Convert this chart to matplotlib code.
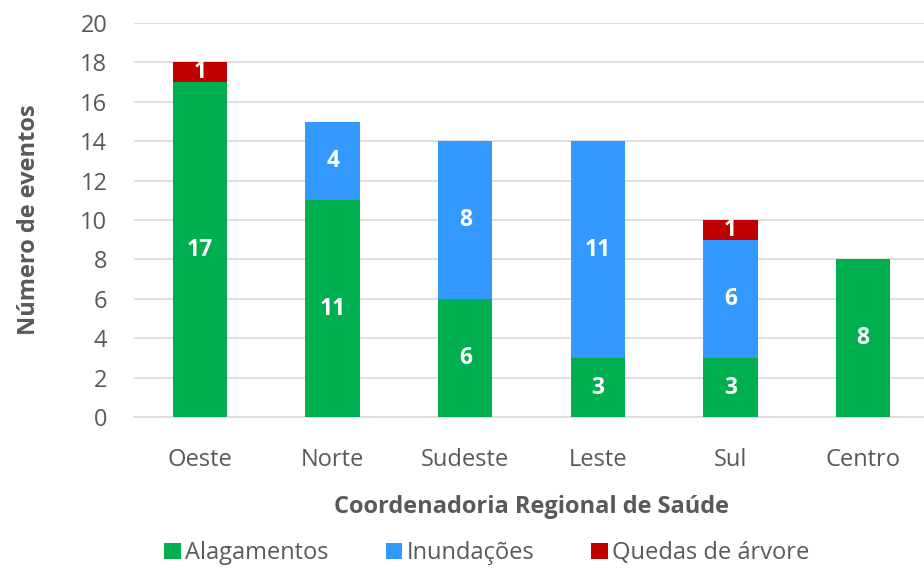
import matplotlib
matplotlib.use("Agg")
import matplotlib.pyplot as plt
import numpy as np

plt.rcParams['font.family'] = ['Open Sans', 'DejaVu Sans']

regioes = ["Oeste", "Norte", "Sudeste", "Leste", "Sul", "Centro"]
alagamentos = [17, 11, 6, 3, 3, 8]
inundacoes = [0, 4, 8, 11, 6, 0]
quedas = [1, 0, 0, 0, 1, 0]

cor_alag = "#00B050"
cor_inund = "#3399FF"
cor_queda = "#C00000"
cinza = "#595959"

fig = plt.figure(figsize=(9.24, 5.69), dpi=100)
ax = fig.add_axes([0.1447, 0.267, 0.8613, 0.6926])

x = np.arange(len(regioes))
w = 0.41
alag = np.array(alagamentos)
inund = np.array(inundacoes)
qued = np.array(quedas)

b1 = ax.bar(x, alag, w, color=cor_alag, label="Alagamentos", zorder=3)
b2 = ax.bar(x, inund, w, bottom=alag, color=cor_inund, label="Inundações", zorder=3)
b3 = ax.bar(x, qued, w, bottom=alag + inund, color=cor_queda, label="Quedas de árvore", zorder=3)

# rótulos dentro das barras
for bars, vals, base in [(b1, alag, 0 * alag), (b2, inund, alag), (b3, qued, alag + inund)]:
    for xi, v, b in zip(x, vals, base):
        if v > 0:
            ax.text(xi, b + v / 2, str(v), ha='center', va='center', color='white',
                    fontsize=16.5, fontweight='bold', zorder=4)

ax.set_xlim(-0.5, len(regioes) - 0.5)
ax.set_ylim(0, 20)
ax.set_yticks(range(0, 21, 2))
ax.set_xticks(x)
ax.set_xticklabels(regioes)
ax.tick_params(axis='both', length=0, labelsize=17, colors=cinza)
ax.tick_params(axis='x', pad=22)
ax.tick_params(axis='y', pad=19)
ax.grid(axis='y', color='#D9D9D9', linewidth=1.2, zorder=0)
for s in ['top', 'right', 'left']:
    ax.spines[s].set_visible(False)
ax.spines['bottom'].set_color('#D9D9D9')
ax.spines['bottom'].set_linewidth(1.2)

ax.set_ylabel("Número de eventos", fontsize=17, fontweight='bold', color=cinza, labelpad=28)
ax.set_xlabel("Coordenadoria Regional de Saúde", fontsize=17, fontweight='bold', color=cinza, labelpad=17)

fig.legend(handles=[b1, b2, b3], loc='center', bbox_to_anchor=(0.527, 0.028), ncol=3,
           frameon=False, fontsize=17, handlelength=0.7, handleheight=0.7,
           handletextpad=0.2, columnspacing=2.4, labelcolor=cinza)

fig.savefig("out.png", dpi=100)
